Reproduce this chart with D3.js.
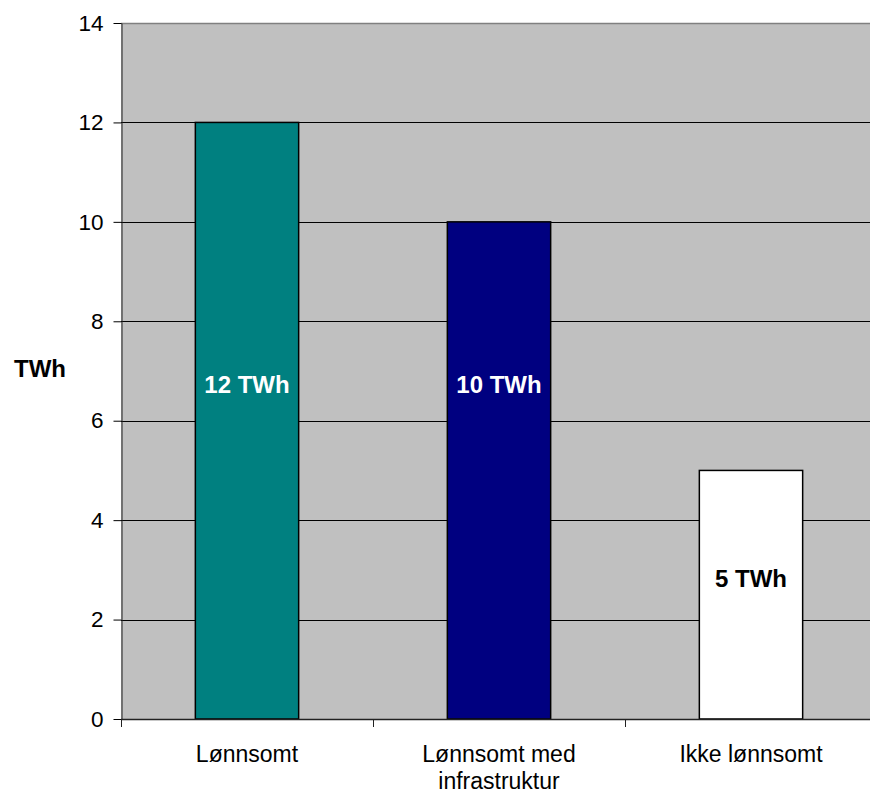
<!DOCTYPE html>
<html>
<head>
<meta charset="utf-8">
<script src="https://cdn.jsdelivr.net/npm/d3@7"></script>
<style>
  body { margin: 0; background: #fff; }
  svg { display: block; font-family: "Liberation Sans", Arial, sans-serif; }
</style>
</head>
<body>
<svg id="svg" width="870" height="796"></svg>
<script>
const categories = [['Lønnsomt'], ['Lønnsomt med', 'infrastruktur'], ['Ikke lønnsomt']]
const values = [12, 10, 5]
const barLabels = ['12 TWh', '10 TWh', '5 TWh']
const labelAt = [6.56, 6.56, 2.66]
const yTicks = [0, 2, 4, 6, 8, 10, 12, 14]

const plotLeft = 121
const plotTop = 23
const plotBottom = 719
const step = 252

const svg = d3.select('#svg')

const xScale = d3.scaleBand()
  .domain(d3.range(values.length))
  .range([plotLeft, plotLeft + step * values.length])
  .paddingInner(0.59)
  .paddingOuter(0.295)

const yScale = d3.scaleLinear()
  .domain([0, 14])
  .range([plotBottom, plotTop])

const colors = ['#008080', '#000080', '#ffffff']
const labelColors = ['#ffffff', '#ffffff', '#000000']

// plot background
svg.append('rect')
  .attr('x', plotLeft)
  .attr('y', plotTop)
  .attr('width', step * values.length)
  .attr('height', plotBottom - plotTop)
  .attr('fill', '#c0c0c0')

// gridlines
svg.append('g')
  .selectAll('line')
  .data(yTicks.filter(d => d > 0 && d < 14))
  .join('line')
  .attr('x1', plotLeft)
  .attr('x2', plotLeft + step * values.length)
  .attr('y1', d => Math.round(yScale(d)) + 0.5)
  .attr('y2', d => Math.round(yScale(d)) + 0.5)
  .attr('stroke', '#000')
  .attr('stroke-width', 1)

// top border
svg.append('line')
  .attr('x1', plotLeft)
  .attr('x2', plotLeft + step * values.length)
  .attr('y1', yScale(14) + 0.5)
  .attr('y2', yScale(14) + 0.5)
  .attr('stroke', '#808080')
  .attr('stroke-width', 1.5)

// bars
svg.append('g')
  .selectAll('rect')
  .data(values)
  .join('rect')
  .attr('x', (d, i) => xScale(i))
  .attr('y', d => yScale(d))
  .attr('width', xScale.bandwidth())
  .attr('height', d => plotBottom - yScale(d))
  .attr('fill', (d, i) => colors[i])
  .attr('stroke', '#000')
  .attr('stroke-width', 1.5)

// bar labels
svg.append('g')
  .selectAll('text')
  .data(barLabels)
  .join('text')
  .attr('x', (d, i) => xScale(i) + xScale.bandwidth() / 2)
  .attr('y', (d, i) => yScale(labelAt[i]))
  .attr('text-anchor', 'middle')
  .attr('font-size', 24)
  .attr('font-weight', 'bold')
  .attr('fill', (d, i) => labelColors[i])
  .text(d => d)

// y axis
const yAxis = d3.axisLeft(yScale)
  .tickValues(yTicks)
  .tickSize(8)
  .tickPadding(10)
  .tickSizeOuter(0)

const gy = svg.append('g')
  .attr('transform', `translate(${plotLeft + 0.5}, 0)`)
  .call(yAxis)
gy.selectAll('text').attr('font-size', 22.5).attr('fill', '#000')
gy.select('.domain').attr('stroke', '#222')

// x axis line and ticks
svg.append('line')
  .attr('x1', plotLeft)
  .attr('x2', plotLeft + step * values.length)
  .attr('y1', plotBottom + 0.5)
  .attr('y2', plotBottom + 0.5)
  .attr('stroke', '#222')
  .attr('stroke-width', 1.5)

svg.append('g')
  .selectAll('line')
  .data(d3.range(values.length + 1))
  .join('line')
  .attr('x1', i => plotLeft + i * step + 0.5)
  .attr('x2', i => plotLeft + i * step + 0.5)
  .attr('y1', plotBottom)
  .attr('y2', plotBottom + 8)
  .attr('stroke', '#222')

// category labels
const cat = svg.append('g')
  .selectAll('text')
  .data(categories)
  .join('text')
  .attr('x', (d, i) => xScale(i) + xScale.bandwidth() / 2)
  .attr('y', 762)
  .attr('text-anchor', 'middle')
  .attr('font-size', 23)
  .attr('fill', '#000')

cat.selectAll('tspan')
  .data(d => d)
  .join('tspan')
  .attr('x', function () { return d3.select(this.parentNode).attr('x') })
  .attr('dy', (d, i) => i === 0 ? 0 : 27)
  .text(d => d)

// y axis title
svg.append('text')
  .attr('x', 14)
  .attr('y', 377)
  .attr('font-size', 24)
  .attr('font-weight', 'bold')
  .attr('fill', '#000')
  .text('TWh')
</script>
</body>
</html>
